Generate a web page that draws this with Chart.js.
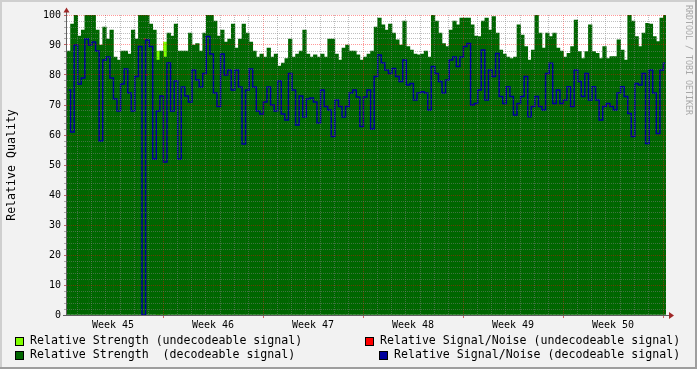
<!DOCTYPE html>
<html>
<head>
<meta charset="utf-8">
<style>
  html, body { margin: 0; padding: 0; background: #f2f2f2; }
  canvas { display: block; }
</style>
</head>
<body>
<canvas id="myChart" width="697" height="369"></canvas>

<script src="https://cdn.jsdelivr.net/npm/chart.js"></script>

<script>
  // x axis runs in days from the start of week 45, one sample every 6 hours
  const weekLabels = ['Week 45', 'Week 46', 'Week 47', 'Week 48', 'Week 49', 'Week 50'];
  const startDay = 0.28;
  const stepDay = 0.25;
  const endDay = 42.21;

  const strengthDecoded = [
    88, 97, 100, 93, 95, 100, 100, 100, 95, 90, 96, 92, 95, 86, 85, 88, 88, 87, 95, 92, 100, 100, 100, 97, 95, 85, 88, 86,
    94, 93, 97, 88, 88, 88, 94, 90, 90.5, 88, 94, 100, 100, 98, 93, 95, 91, 92, 97, 89, 92, 97, 94, 91, 88, 86, 87, 86,
    89, 86, 87, 83, 84, 85.5, 92, 86, 87, 88, 95, 87, 86, 86.7, 86, 87, 86, 92, 92, 87, 85, 89, 90, 88, 88, 86.7, 85, 86,
    87, 88, 96, 99, 96.7, 95, 97, 94, 91.7, 90, 98, 89.5, 88.3, 87, 86.7, 87, 88, 86, 100, 98, 94, 90.5, 89.5, 95, 98, 96.7, 99, 99,
    99, 96.7, 93, 92.8, 98, 99, 95, 99.5, 94, 88.3, 87, 86, 85.5, 86, 96.7, 93.3, 89.5, 85, 88.3, 100, 94, 89, 94, 92.8, 94, 89, 88, 86,
    87.2, 89.5, 98.3, 87.8, 85.5, 87.8, 96.7, 87.8, 87.2, 85.5, 89.5, 85.5, 86.1, 86.1, 91.7, 88.3, 85, 100, 98, 92.8, 89.5, 94, 97.2, 97, 92.8, 91.1, 99, 100
  ];

  const signalNoiseDecoded = [
    75, 61, 90, 77, 79, 92, 90, 91, 88, 58, 85, 86, 79, 72, 68, 77, 82, 74, 68, 79.5, 89.5, 0, 91.7, 89.5, 52, 68, 73, 51,
    84, 68, 78, 52, 76, 73, 71, 81.7, 78.3, 76, 80.5, 92.8, 87, 74, 69.5, 87, 80, 81.7, 75, 81.7, 76, 57, 75, 82, 76, 68, 67, 71,
    76, 70, 68, 78, 67, 65, 80.5, 75, 63.3, 73, 66, 72, 72.3, 71, 64, 75, 69.5, 68.3, 59.5, 71.7, 69.5, 66, 69.5, 74, 75, 72.7, 62.8, 72.7,
    75, 62, 79.5, 86.7, 84, 81.7, 80.5, 82.2, 79.5, 77.8, 85, 76.7, 77.2, 71.7, 74, 74.4, 74, 68.3, 82.8, 80.5, 77.8, 74, 78.3, 85, 86, 82.8, 86, 89.5,
    90.5, 70, 70.5, 75, 88.3, 71.7, 81.7, 79.5, 87.2, 72.8, 70.5, 76.1, 72.8, 66.7, 70.5, 72.8, 79.5, 66.1, 69.5, 72.8, 69.5, 68.3, 80.5, 83.9, 70.5, 75, 70.5, 71.7,
    76.1, 69.5, 81.7, 77.8, 72.8, 80.5, 71.7, 76.1, 71.7, 65, 69.5, 70.5, 69.5, 68.3, 74, 76.1, 72.8, 67.2, 59.5, 77.2, 76.7, 80.5, 57.2, 81.7, 74, 60.5, 81.7, 83.9
  ];

  // undecodeable samples only show up a few times
  const strengthUndecodedIdx = [25, 27];
  const strengthUndecoded = [88, 91];
  const signalNoiseUndecodedIdx = [21, 22];
  const signalNoiseUndecoded = [92, 80];
</script>

<script>
  const sampleX = i => startDay + (i + 0.5) * stepDay;
  const toPoints = arr => arr.map((v, i) => ({x: sampleX(i), y: v}));
  const sparsePoints = (idx, vals) => idx.map((i, k) => ({x: sampleX(i), y: vals[k]}));

  const monoFont = '"DejaVu Sans Mono", monospace';
  Chart.defaults.font.family = monoFont;
  Chart.defaults.color = '#000';

  const minorGrid = 'rgba(128,128,128,0.5)';
  const majorGrid = 'rgba(255,0,0,0.4)';

  // legend slots: where rrdtool puts each entry
  const legendSlots = [
    {box: [15, 337], text: [30, 341]},
    {box: [15, 351], text: [30, 355]},
    {box: [365, 337], text: [380, 341]},
    {box: [379, 351], text: [394, 355]}
  ];

  const rrdLook = {
    id: 'rrdLook',
    beforeDraw(chart) {
      const {ctx, chartArea: a, width, height} = chart;
      ctx.save();
      ctx.fillStyle = '#f2f2f2';
      ctx.fillRect(0, 0, width, height);
      ctx.fillStyle = '#fff';
      ctx.fillRect(a.left, a.top, a.right - a.left, a.bottom - a.top);
      ctx.restore();
    },
    afterDraw(chart) {
      const {ctx, chartArea: a, width, height} = chart;
      ctx.save();

      // axes + arrows
      ctx.strokeStyle = '#606060';
      ctx.lineWidth = 1;
      ctx.beginPath();
      ctx.moveTo(a.left - 0.5, a.bottom + 1);
      ctx.lineTo(a.left - 0.5, a.top - 4);
      ctx.moveTo(a.left - 4, a.bottom + 0.5);
      ctx.lineTo(a.right + 3, a.bottom + 0.5);
      ctx.stroke();
      ctx.fillStyle = '#a02828';
      ctx.beginPath();
      ctx.moveTo(a.left - 3.5, a.top - 2.5);
      ctx.lineTo(a.left + 2.5, a.top - 2.5);
      ctx.lineTo(a.left - 0.5, a.top - 7.5);
      ctx.closePath();
      ctx.fill();
      ctx.beginPath();
      ctx.moveTo(a.right + 3, a.bottom - 3);
      ctx.lineTo(a.right + 3, a.bottom + 4);
      ctx.lineTo(a.right + 8, a.bottom + 0.5);
      ctx.closePath();
      ctx.fill();

      // legend
      ctx.font = '11.6px ' + monoFont;
      ctx.textBaseline = 'middle';
      ctx.textAlign = 'left';
      chart.data.datasets.forEach(ds => {
        const s = legendSlots[ds.legendSlot];
        ctx.fillStyle = ds.backgroundColor || ds.borderColor;
        ctx.fillRect(s.box[0], s.box[1], 9, 9);
        ctx.strokeStyle = '#000';
        ctx.strokeRect(s.box[0] + 0.5, s.box[1] + 0.5, 8, 8);
        ctx.fillStyle = '#000';
        ctx.fillText(ds.label, s.text[0], s.text[1]);
      });

      // watermark
      ctx.save();
      ctx.translate(688.5, 5);
      ctx.rotate(Math.PI / 2);
      ctx.font = '8.3px ' + monoFont;
      ctx.fillStyle = '#a8a8a8';
      ctx.textBaseline = 'middle';
      ctx.fillText('RRDTOOL / TOBI OETIKER', 0, 0);
      ctx.restore();

      // frame shading
      ctx.fillStyle = '#cfcfcf';
      ctx.fillRect(0, 0, width, 2);
      ctx.fillRect(0, 0, 2, height);
      ctx.fillStyle = '#9e9e9e';
      ctx.fillRect(0, height - 2, width, 2);
      ctx.fillRect(width - 2, 0, 2, height);
      ctx.restore();
    }
  };

  const ctx = document.getElementById('myChart');

  new Chart(ctx, {
    type: 'bar',
    data: {
      datasets: [
        {
          type: 'line',
          label: 'Relative Signal/Noise (decodeable signal)',
          data: toPoints(signalNoiseDecoded),
          borderColor: '#00009b',
          borderWidth: 1.5,
          stepped: 'middle',
          pointRadius: 0,
          fill: false,
          order: 0,
          legendSlot: 3
        },
        {
          type: 'line',
          label: 'Relative Signal/Noise (undecodeable signal)',
          data: sparsePoints(signalNoiseUndecodedIdx, signalNoiseUndecoded),
          borderColor: '#ff0000',
          backgroundColor: '#ff0000',
          borderWidth: 1,
          stepped: 'middle',
          pointRadius: 0,
          fill: false,
          order: 1,
          legendSlot: 2
        },
        {
          label: 'Relative Strength  (decodeable signal)',
          data: toPoints(strengthDecoded),
          backgroundColor: '#006600',
          borderWidth: 0,
          grouped: false,
          barPercentage: 1,
          categoryPercentage: 1,
          order: 2,
          legendSlot: 1
        },
        {
          label: 'Relative Strength (undecodeable signal)',
          data: sparsePoints(strengthUndecodedIdx, strengthUndecoded),
          backgroundColor: '#80ff00',
          borderWidth: 0,
          grouped: false,
          barPercentage: 1,
          categoryPercentage: 1,
          order: 3,
          legendSlot: 0
        }
      ]
    },
    options: {
      responsive: false,
      animation: false,
      layout: {
        padding: {left: 0, top: 15, right: 31, bottom: 0}
      },
      plugins: {
        legend: {display: false},
        tooltip: {enabled: false}
      },
      scales: {
        x: {
          type: 'linear',
          min: startDay,
          max: endDay,
          offset: false,
          afterBuildTicks: scale => {
            const t = [];
            for (let d = 1; d <= 42; d++) t.push({value: d});
            weekLabels.forEach((w, k) => t.push({value: 3.5 + 7 * k}));
            t.sort((p, q) => p.value - q.value);
            scale.ticks = t;
          },
          afterFit: scale => { scale.height = 54; },
          ticks: {
            autoSkip: false,
            maxRotation: 0,
            padding: 1,
            font: {size: 10},
            callback: v => Number.isInteger(v) ? '' : weekLabels[Math.round((v - 3.5) / 7)]
          },
          grid: {
            z: 1,
            offset: false,
            tickBorderDash: [],
            tickLength: 3,
            color: c => !Number.isInteger(c.tick.value) ? 'rgba(0,0,0,0)' : (c.tick.value % 7 === 0 ? majorGrid : minorGrid),
            tickColor: c => Number.isInteger(c.tick.value) && c.tick.value % 7 === 0 ? '#d06060' : 'rgba(0,0,0,0)'
          },
          border: {display: false, dash: [1, 1]}
        },
        y: {
          type: 'linear',
          min: 0,
          max: 100,
          afterBuildTicks: scale => {
            const t = [];
            for (let v = 0; v <= 100; v += 2) t.push({value: v});
            scale.ticks = t;
          },
          afterFit: scale => { scale.width = 67; },
          ticks: {
            autoSkip: false,
            padding: 3,
            font: {size: 10},
            callback: v => v % 10 === 0 ? v : ''
          },
          grid: {
            z: 1,
            tickBorderDash: [],
            tickLength: 3,
            color: c => c.tick.value % 10 === 0 ? majorGrid : minorGrid,
            tickColor: c => c.tick.value % 10 === 0 ? '#c06060' : 'rgba(140,140,140,0.7)'
          },
          border: {display: false, dash: [1, 1]},
          title: {
            display: true,
            text: 'Relative Quality',
            font: {size: 11.6},
            padding: {top: 5, bottom: 0}
          }
        }
      }
    },
    plugins: [rrdLook]
  });
</script>
</body>
</html>
